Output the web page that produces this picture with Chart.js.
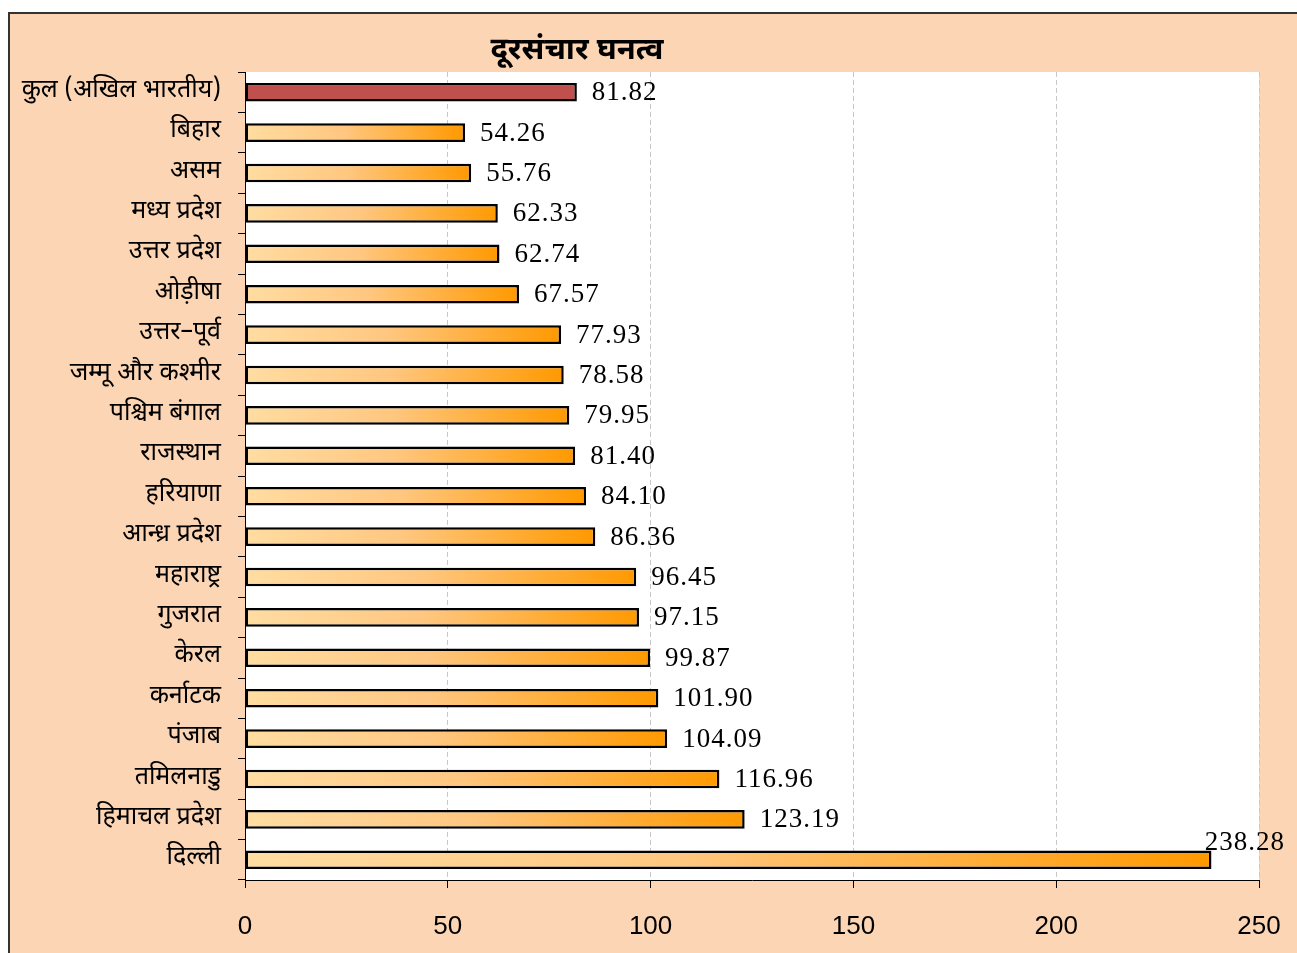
<!DOCTYPE html>
<html>
<head>
<meta charset="utf-8">
<script src="https://cdn.jsdelivr.net/npm/chart.js@4.4.1/dist/chart.umd.min.js"></script>
<style>
  html, body { margin: 0; padding: 0; background: #fff; }
  #wrap { width: 1297px; height: 953px; }
</style>
</head>
<body>
<div id="wrap"><canvas id="teleChart" width="1297" height="953"></canvas></div>
<script>
const states = [
    'कुल (अखिल भारतीय)', 'बिहार', 'असम', 'मध्य प्रदेश', 'उत्तर प्रदेश', 'ओड़ीषा',
    'उत्तर–पूर्व', 'जम्मू और कश्मीर', 'पश्चिम बंगाल', 'राजस्थान', 'हरियाणा',
    'आन्ध्र प्रदेश', 'महाराष्ट्र', 'गुजरात', 'केरल', 'कर्नाटक', 'पंजाब',
    'तमिलनाडु', 'हिमाचल प्रदेश', 'दिल्ली'
];
const teleDensity = [
    81.82, 54.26, 55.76, 62.33, 62.74, 67.57, 77.93, 78.58, 79.95, 81.40,
    84.10, 86.36, 96.45, 97.15, 99.87, 101.90, 104.09, 116.96, 123.19, 238.28
];
const xTicks = [0, 50, 100, 150, 200, 250];
const chartTitle = 'दूरसंचार घनत्व';

const devFont = "'Noto Sans Devanagari', 'Mangal', 'Lohit Devanagari', 'Noto Sans', sans-serif";

function barFill(ctx) {
    const chart = ctx.chart;
    if (!chart.chartArea) return '#FFB040';
    if (ctx.dataIndex === 0) return '#C0504D';
    const x = chart.scales.x;
    const x0 = x.getPixelForValue(0);
    const x1 = x.getPixelForValue(ctx.raw);
    const g = chart.ctx.createLinearGradient(x0, 0, x1, 0);
    g.addColorStop(0, '#FFDDA2');
    g.addColorStop(0.45, '#FFC780');
    g.addColorStop(1, '#FF9900');
    return g;
}

const framePlugin = {
    id: 'frame',
    beforeDraw(chart) {
        const { ctx, chartArea, width, height } = chart;
        ctx.save();
        ctx.fillStyle = '#FCD5B4';
        ctx.fillRect(8, 12, width - 8, height - 12);
        ctx.strokeStyle = '#333';
        ctx.lineWidth = 2;
        ctx.beginPath();
        ctx.moveTo(9, height);
        ctx.lineTo(9, 13);
        ctx.lineTo(width, 13);
        ctx.stroke();
        ctx.fillStyle = '#fff';
        ctx.fillRect(chartArea.left, chartArea.top, chartArea.right - chartArea.left, chartArea.bottom - chartArea.top);
        ctx.fillStyle = '#000';
        ctx.font = 'bold 31px ' + devFont;
        ctx.textAlign = 'center';
        ctx.textBaseline = 'middle';
        ctx.fillText(chartTitle, 577, 53);
        ctx.restore();
    }
};

const valueLabels = {
    id: 'valueLabels',
    afterDatasetsDraw(chart) {
        const { ctx, width } = chart;
        const meta = chart.getDatasetMeta(0);
        ctx.save();
        ctx.font = '27px "Liberation Serif", "Times New Roman", serif';
        ctx.letterSpacing = '1px';
        ctx.fillStyle = '#000';
        ctx.textBaseline = 'middle';
        meta.data.forEach((bar, i) => {
            const txt = teleDensity[i].toFixed(2);
            const w = ctx.measureText(txt).width;
            let x = bar.x + 15;
            let y = bar.y + 1;
            if (x + w > width - 10) {
                x = width - 12 - w;
                y -= 18;
            }
            ctx.fillText(txt, x, y);
        });
        ctx.restore();
    }
};

new Chart(document.getElementById('teleChart'), {
    type: 'bar',
    data: {
        labels: states,
        datasets: [{
            data: teleDensity,
            backgroundColor: barFill,
            borderColor: '#000',
            borderWidth: 2.5,
            borderSkipped: false,
            barPercentage: 0.46,
            categoryPercentage: 1
        }]
    },
    options: {
        indexAxis: 'y',
        responsive: false,
        animation: false,
        devicePixelRatio: 1,
        layout: { padding: { left: 0, top: 72, right: 38, bottom: 0 } },
        plugins: { legend: { display: false }, tooltip: { enabled: false } },
        scales: {
            x: {
                min: 0,
                max: 250,
                afterBuildTicks(scale) { scale.ticks = xTicks.map(v => ({ value: v })); },
                afterFit(scale) {
                    scale.height = 73;
                    scale.paddingLeft = 0;
                    scale.paddingRight = 0;
                },
                grid: {
                    color: '#c8c8c8',
                    lineWidth: 1,
                    tickColor: '#000',
                    tickLength: 8,
                    tickWidth: 1
                },
                border: { display: true, color: '#000', width: 1, dash: [5, 3] },
                ticks: {
                    color: '#000',
                    padding: 23,
                    font: { family: '"Liberation Sans", Arial, sans-serif', size: 26 }
                }
            },
            y: {
                afterFit(scale) { scale.width = 245; },
                grid: {
                    drawOnChartArea: false,
                    tickColor: '#000',
                    tickLength: 7,
                    offset: true
                },
                border: { display: true, color: '#000', width: 1 },
                ticks: {
                    color: '#000',
                    padding: 17,
                    font: { family: devFont, size: 25 }
                }
            }
        }
    },
    plugins: [framePlugin, valueLabels]
});
</script>
</body>
</html>
